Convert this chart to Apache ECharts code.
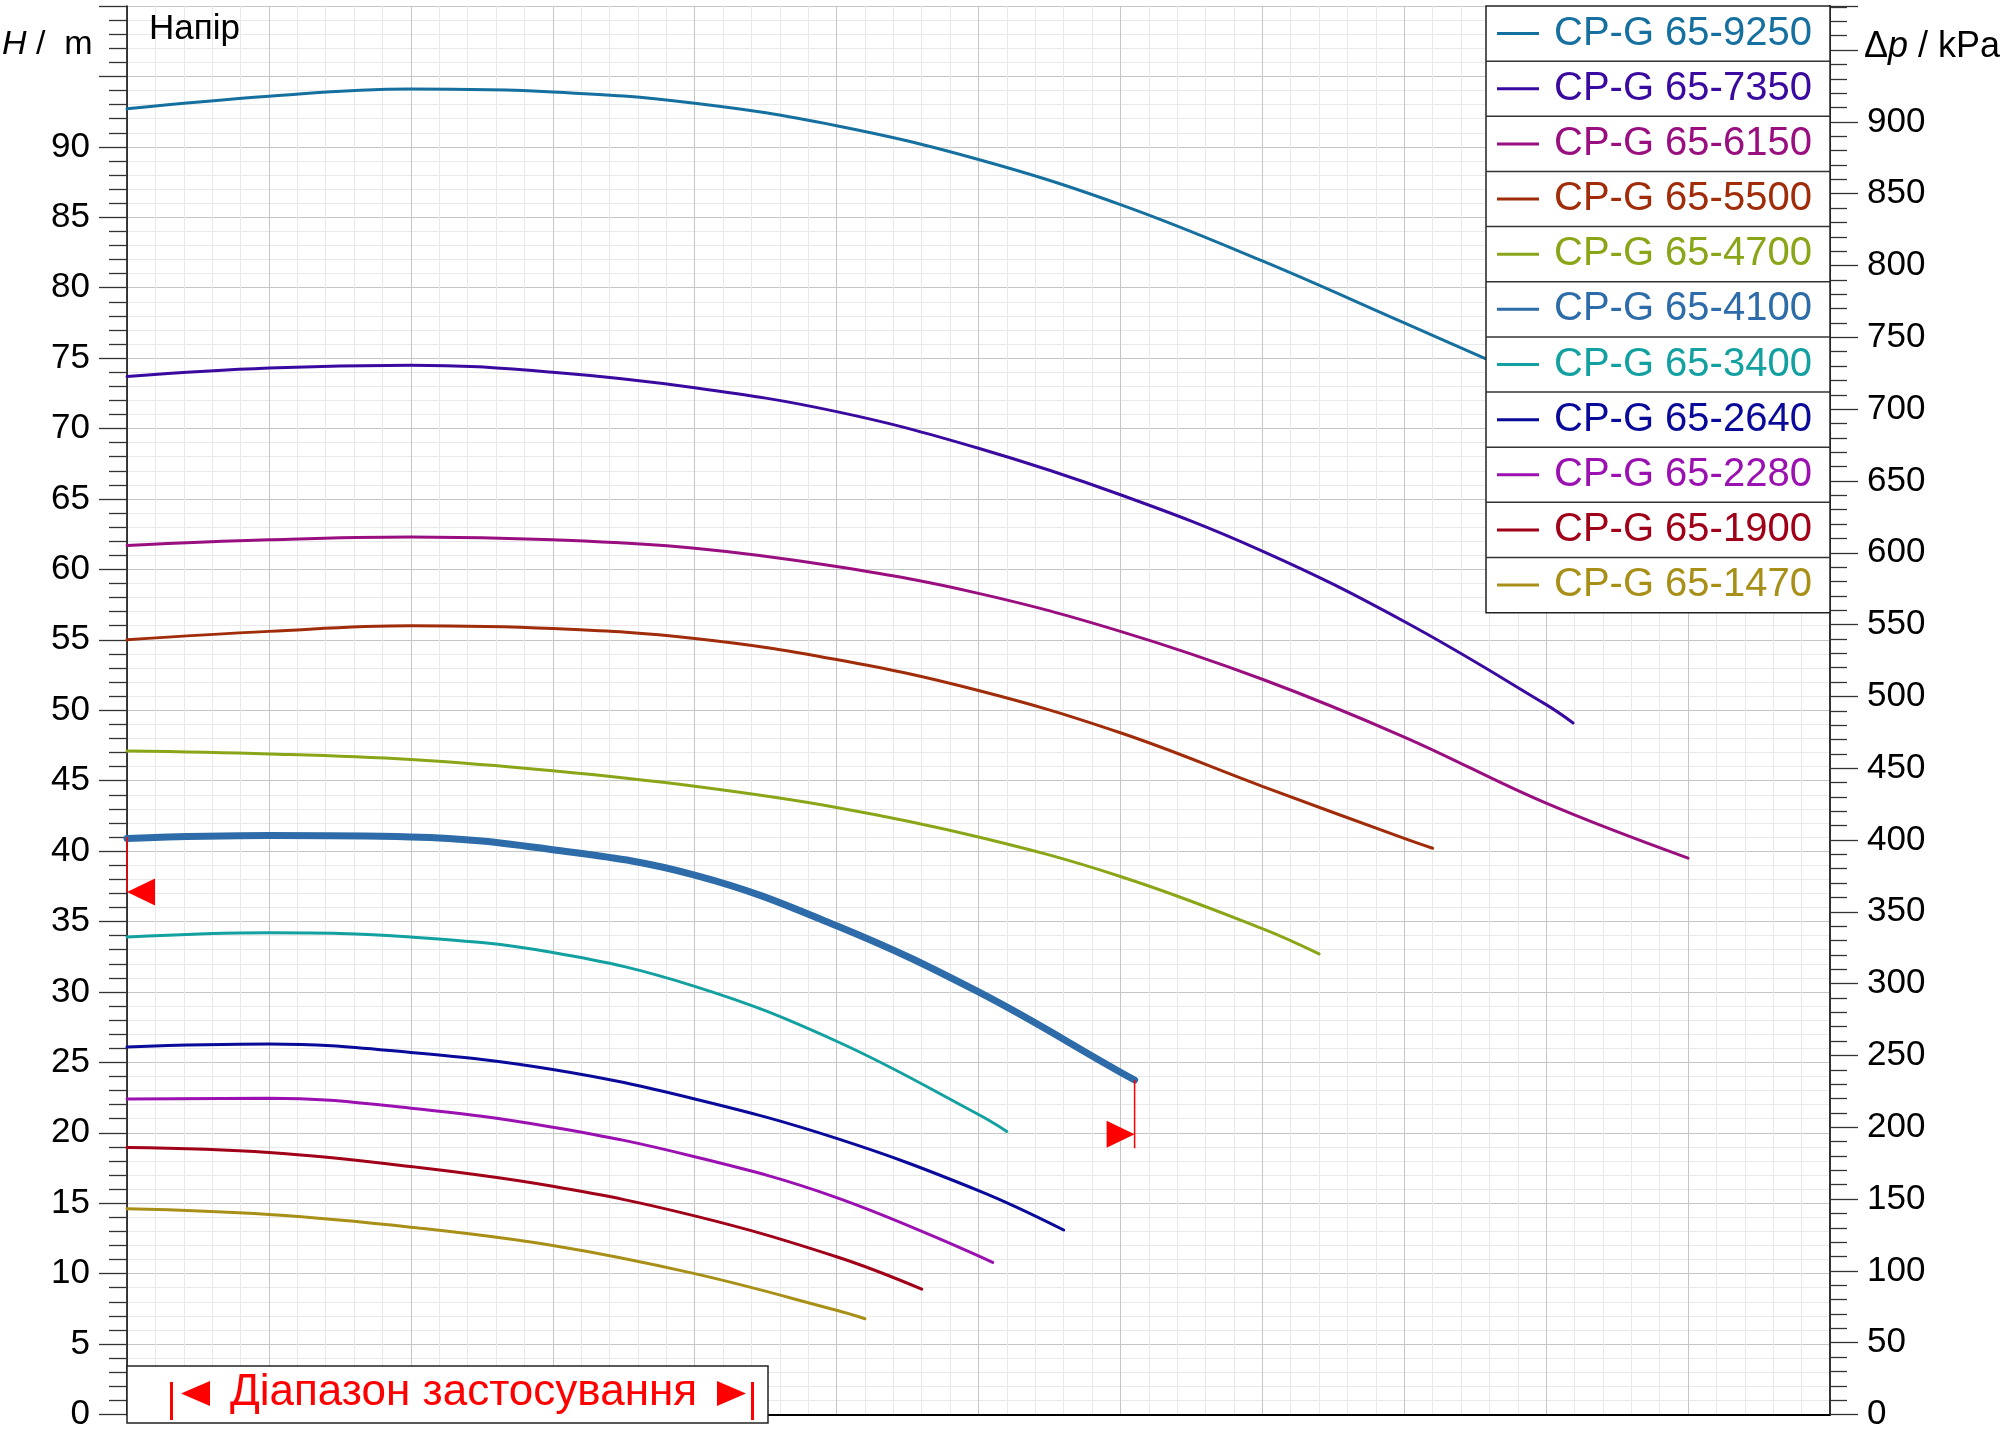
<!DOCTYPE html>
<html>
<head>
<meta charset="utf-8">
<script src="https://cdn.jsdelivr.net/npm/echarts@6/dist/echarts.min.js"></script>
<style>html,body{margin:0;padding:0;background:#fff}#c{width:2010px;height:1432px}</style>
</head>
<body>
<div id="c"></div>
<script>
// ---- Data (Q in m3/h, H in m) ----
const seriesNames = ['CP-G 65-9250','CP-G 65-7350','CP-G 65-6150','CP-G 65-5500','CP-G 65-4700','CP-G 65-4100','CP-G 65-3400','CP-G 65-2640','CP-G 65-2280','CP-G 65-1900','CP-G 65-1470'];
const seriesColors = ['#15709f','#3a0aa0','#9a0f80','#a02c0a','#8aa618','#2d6ca8','#12a0a0','#0a0a9a','#9a10b0','#a00018','#a89018'];
const c9250 = [[0,92.7],[5,93.6],[10,94.1],[15,93.9],[20,93.1],[25,91.5],[30,89.1],[35,85.9],[40,81.9],[45,77.5],[48.5,74.4]];
const c7350 = [[0,73.7],[5,74.3],[10,74.5],[15,74.0],[20,72.9],[25,71.2],[30,68.6],[35,65.3],[40,61.3],[45,56.3],[50,50.4],[50.95,49.1]];
const c6150 = [[0,61.7],[5,62.1],[10,62.3],[15,62.1],[20,61.5],[25,60.2],[30,58.3],[35,55.6],[40,52.2],[45,48.1],[50,43.4],[55,39.5]];
const c5500 = [[0,55.0],[5,55.6],[10,56.0],[15,55.8],[20,55.1],[25,53.6],[30,51.4],[35,48.4],[40,44.6],[45,40.9],[46,40.2]];
const c4700 = [[0,47.1],[5,46.9],[10,46.5],[15,45.7],[20,44.6],[25,43.1],[30,41.0],[35,38.2],[40,34.5],[42,32.7]];
const c4100 = [[0,40.9],[5,41.1],[10,41.0],[15,40.1],[20,38.3],[25,34.7],[30,30.0],[35,24.3],[35.5,23.75]];
const c3400 = [[0,33.9],[5,34.2],[10,33.9],[15,32.8],[20,30.4],[25,26.5],[30,21.3],[31,20.1]];
const c2640 = [[0,26.1],[5,26.3],[10,25.7],[15,24.5],[20,22.4],[25,19.6],[30,15.9],[33,13.1]];
const c2280 = [[0,22.4],[5,22.45],[10,21.75],[15,20.4],[20,18.3],[25,15.4],[30.5,10.8]];
const c1900 = [[0,18.95],[5,18.6],[10,17.6],[15,16.2],[20,14.1],[25,11.2],[28,8.9]];
const c1470 = [[0,14.6],[5,14.2],[10,13.3],[15,12.0],[20,10.0],[25,7.4],[26,6.8]];
const curves = [c9250,c7350,c6150,c5500,c4700,c4100,c3400,c2640,c2280,c1900,c1470];
// operating-range markers
const markLeftLine = [[0,41.0],[0,37.1]];
const markLeftTip = [[0,37.1]];
const markRightLine = [[35.5,23.75],[35.5,18.9]];
const markRightTip = [[35.5,19.9]];
// axes
const xMin = 0, xMax = 60, xStep = 5;
const hMin = 0, hMax = 100, hStep = 5, hLabelMax = 90;
const pMax = 980.7, pStep = 50, pLabelMax = 900;

const FONT = '"Liberation Sans", Arial, sans-serif';
const chart = echarts.init(document.getElementById('c'), null, {renderer: 'canvas'});

const series = curves.map((d, i) => ({
  name: seriesNames[i], type: 'line', data: d, smooth: 0.4, showSymbol: false, symbol: 'none',
  lineStyle: {color: seriesColors[i], width: i === 5 ? 7 : 3, cap: 'round'},
  itemStyle: {color: seriesColors[i]}, z: i === 5 ? 3 : 2, silent: true
}));
series.push({type: 'line', data: markLeftLine, symbol: 'none', lineStyle: {color: '#ff0000', width: 1.5}, z: 4, silent: true});
series.push({type: 'line', data: markRightLine, symbol: 'none', lineStyle: {color: '#ff0000', width: 1.5}, z: 4, silent: true});
series.push({type: 'scatter', data: markLeftTip, symbol: 'triangle', symbolSize: [27, 28], symbolRotate: 90, symbolOffset: [14, 0], itemStyle: {color: '#ff0000', opacity: 1}, z: 4, silent: true});
series.push({type: 'scatter', data: markRightTip, symbol: 'triangle', symbolSize: [27, 28], symbolRotate: -90, symbolOffset: [-14, 0], itemStyle: {color: '#ff0000', opacity: 1}, z: 4, silent: true});

const rowH = 55.15, legTop = 6, legLeft = 1486, legW = 344;
const graphics = [
  {type: 'rect', shape: {x: legLeft, y: legTop, width: legW, height: rowH * 11}, style: {fill: '#fff', stroke: '#222', lineWidth: 1.5}, z: 3, silent: true},
];
for (let k = 1; k < 11; k++) {
  graphics.push({type: 'line', shape: {x1: legLeft, y1: legTop + rowH * k, x2: legLeft + legW, y2: legTop + rowH * k}, style: {stroke: '#333', lineWidth: 1.5}, z: 5, silent: true});
}
graphics.push(
  {type: 'text', x: 2, y: 45, style: {text: '{i|H} /  m', rich: {i: {fontStyle: 'italic', fontSize: 34, fontFamily: FONT, fill: '#000'}}, fontSize: 34, fontFamily: FONT, fill: '#000', verticalAlign: 'middle'}, z: 5},
  {type: 'text', x: 1864, y: 47, style: {text: 'Δ{i|p} / kPa', rich: {i: {fontStyle: 'italic', fontSize: 36, fontFamily: FONT, fill: '#000'}}, fontSize: 36, fontFamily: FONT, fill: '#000', verticalAlign: 'middle'}, z: 5},
  {type: 'text', x: 149, y: 29, style: {text: 'Напір', fontSize: 35, fontFamily: FONT, fill: '#000', verticalAlign: 'middle'}, z: 5},
  {type: 'rect', shape: {x: 127, y: 1366, width: 641, height: 57}, style: {fill: '#fff', stroke: '#222', lineWidth: 1.5}, z: 3, silent: true},
  {type: 'rect', shape: {x: 170, y: 1382, width: 3, height: 38}, style: {fill: '#ff0000'}, z: 5, silent: true},
  {type: 'polygon', shape: {points: [[210, 1381], [210, 1406], [181, 1393.5]]}, style: {fill: '#ff0000'}, z: 5, silent: true},
  {type: 'text', x: 230, y: 1393, style: {text: 'Діапазон застосування', fontSize: 44, fontFamily: FONT, fill: '#ff0000', verticalAlign: 'middle'}, z: 5},
  {type: 'polygon', shape: {points: [[717, 1381], [717, 1406], [746, 1393.5]]}, style: {fill: '#ff0000'}, z: 5, silent: true},
  {type: 'rect', shape: {x: 751, y: 1382, width: 3, height: 38}, style: {fill: '#ff0000'}, z: 5, silent: true}
);

chart.setOption({
  animation: false,
  backgroundColor: '#fff',
  grid: {left: 127, right: 180, top: 6, bottom: 10, containLabel: false},
  legend: {
    show: true, orient: 'vertical', left: legLeft, top: legTop, padding: [0, 0, 0, 11], itemGap: 0,
    icon: 'rect', itemWidth: 42, itemHeight: 3, selectedMode: false, z: 4,
    textStyle: {fontSize: 40, fontFamily: FONT, lineHeight: rowH, padding: [0, 0, 0, 10]},
    data: seriesNames.map((n, i) => ({name: n, textStyle: {color: seriesColors[i]}}))
  },
  xAxis: {
    type: 'value', min: xMin, max: xMax, interval: xStep,
    axisLine: {show: true, onZero: false, lineStyle: {color: '#000', width: 2}},
    axisTick: {show: false}, axisLabel: {show: false},
    splitLine: {show: true, lineStyle: {color: '#c6c6c6', width: 1}},
    minorTick: {show: false, splitNumber: 5},
    minorSplitLine: {show: true, lineStyle: {color: '#e9e9e9', width: 1}}
  },
  yAxis: [
    {
      type: 'value', position: 'left', min: hMin, max: hMax, interval: hStep,
      axisLine: {show: true, onZero: false, lineStyle: {color: '#000', width: 1.5}},
      axisTick: {show: true, length: 28, lineStyle: {color: '#333', width: 1.3}},
      minorTick: {show: true, splitNumber: 5, length: 18, lineStyle: {color: '#333', width: 1.3}},
      axisLabel: {margin: 37, fontSize: 35, fontFamily: FONT, color: '#000', formatter: v => (v > hLabelMax ? '' : String(v))},
      splitLine: {show: true, lineStyle: {color: '#c6c6c6', width: 1}},
      minorSplitLine: {show: true, lineStyle: {color: '#e9e9e9', width: 1}}
    },
    {
      type: 'value', position: 'right', min: 0, max: pMax, interval: pStep,
      axisLine: {show: true, onZero: false, lineStyle: {color: '#333', width: 2}},
      axisTick: {show: true, length: 28, lineStyle: {color: '#333', width: 1.3}},
      minorTick: {show: true, splitNumber: 5, length: 17, lineStyle: {color: '#333', width: 1.3}},
      axisLabel: {margin: 37, fontSize: 35, fontFamily: FONT, color: '#000', formatter: v => (v > pLabelMax ? '' : String(v))},
      splitLine: {show: false}, minorSplitLine: {show: false}
    }
  ],
  graphic: {elements: graphics},
  series: series
});
</script>
</body>
</html>
